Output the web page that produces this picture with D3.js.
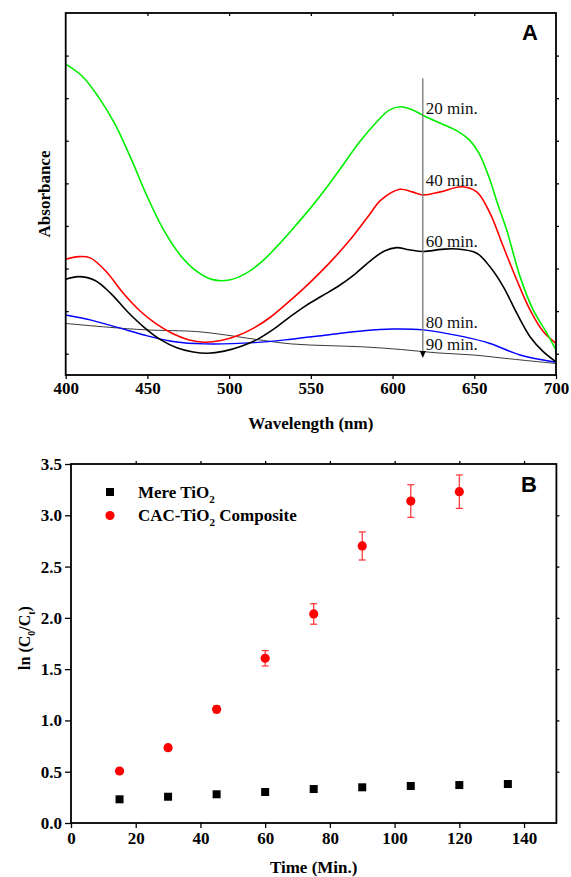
<!DOCTYPE html>
<html>
<head>
<meta charset="utf-8">
<script src="https://cdn.jsdelivr.net/npm/d3@7/dist/d3.min.js"></script>
<style>
  html, body { margin: 0; padding: 0; background: #fff; }
  svg { display: block; }
</style>
</head>
<body>
<svg id="chart" width="571" height="877"></svg>
<script>
// ---- panel A : absorbance spectra (a.u.) ----
const spectrum20 = [[400,0.680],[410,0.652],[420,0.603],[430,0.540],[440,0.458],[450,0.368],[460,0.290],[470,0.232],[480,0.194],[490,0.174],[500,0.173],[510,0.188],[520,0.216],[530,0.255],[540,0.298],[550,0.343],[560,0.392],[570,0.445],[580,0.498],[590,0.543],[598,0.572],[605,0.580],[612,0.573],[620,0.557],[630,0.540],[640,0.522],[647,0.502],[653,0.470],[659.6,0.408],[664,0.355],[669.8,0.291],[678,0.181],[686,0.103],[694.3,0.049],[700,0.009]]
const spectrum40 = [[400,0.222],[408,0.228],[415,0.225],[425,0.192],[435,0.143],[445,0.102],[455,0.071],[465,0.048],[475,0.033],[485,0.027],[495,0.031],[505,0.042],[515,0.060],[525,0.085],[535,0.117],[545,0.151],[555,0.188],[565,0.228],[575,0.272],[585,0.322],[593,0.361],[604.6,0.386],[612,0.380],[618.8,0.373],[629.2,0.380],[642.3,0.392],[651.5,0.380],[659.6,0.330],[667.8,0.251],[676,0.173],[684.1,0.103],[692.2,0.052],[700,0.024]]
const spectrum60 = [[400,0.175],[408,0.181],[418,0.172],[428,0.140],[438,0.098],[448,0.062],[458,0.033],[468,0.014],[478,0.004],[487,0.001],[497,0.006],[507,0.017],[517,0.033],[527,0.057],[537,0.086],[547,0.113],[557,0.136],[567,0.159],[577,0.187],[587,0.220],[595,0.241],[602.5,0.249],[610,0.244],[618.8,0.240],[630,0.245],[639.2,0.246],[651.5,0.236],[659.6,0.204],[667.8,0.157],[676,0.095],[684.1,0.040],[692.2,0.005],[700,-0.019]]
const spectrum80 = [[400,0.091],[415.6,0.079],[433.4,0.060],[450,0.042],[466.8,0.028],[484.6,0.023],[515.7,0.026],[538,0.034],[560,0.044],[582.5,0.054],[600,0.058],[618.8,0.056],[643.3,0.040],[659.6,0.024],[678,-0.003],[700,-0.020]]
const spectrum90 = [[400,0.071],[426.7,0.062],[449,0.056],[480,0.052],[497.8,0.044],[515.7,0.034],[538,0.023],[560,0.019],[582.5,0.016],[604.8,0.010],[627,0.002],[649.3,-0.003],[671.5,-0.012],[700,-0.023]]

const spectraNames = ["20 min.", "40 min.", "60 min.", "80 min.", "90 min."]
const spectraLabelY = [0.563, 0.394, 0.251, 0.060, 0.009]
const arrowWl = 618.5, arrowTop = 0.647, arrowBottom = -0.010

const wlTicks = [400, 450, 500, 550, 600, 650, 700]
const absTicks = [0, 0.1, 0.2, 0.3, 0.4, 0.5, 0.6, 0.7]

// ---- panel B : kinetics ----
const times = [15, 30, 45, 60, 75, 90, 105, 120, 135]
const mereTiO2 = [0.231, 0.256, 0.280, 0.302, 0.331, 0.348, 0.361, 0.370, 0.380]
const cacTimes = [15, 30, 45, 60, 75, 90, 105, 120]
const cacTiO2 = [0.507, 0.734, 1.108, 1.606, 2.038, 2.701, 3.139, 3.230]
const cacErr = [0.012, 0.022, 0.033, 0.075, 0.100, 0.137, 0.159, 0.163]

const timeTicks = [0, 20, 40, 60, 80, 100, 120, 140]
const lnTicks = [0, 0.5, 1.0, 1.5, 2.0, 2.5, 3.0, 3.5]

const serif = "'Liberation Serif', 'Times New Roman', serif"
const sans = "'Liberation Sans', Arial, sans-serif"

const svg = d3.select("#chart")

// ========== PANEL A ==========
const xA = d3.scaleLinear([400, 700], [65.7, 556])
const yA = d3.scaleLinear([-0.05, 0.8], [375, 13])

const gA = svg.append("g")

// ticks
gA.append("g")
  .attr("transform", `translate(0,${yA.range()[0]})`)
  .call(d3.axisBottom(xA).tickValues(wlTicks).tickSize(4).tickPadding(3).tickFormat(d3.format("d")))
  .call(g => g.select(".domain").remove())
  .call(g => g.selectAll("line").attr("stroke-width", 1.3))
  .call(g => g.selectAll("text").attr("font-family", serif).attr("font-weight", "bold").attr("font-size", 17).attr("fill", "#000"))

gA.append("g")
  .attr("transform", `translate(0,${yA.range()[1]})`)
  .call(d3.axisTop(xA).tickValues(wlTicks.slice(1, -1)).tickSize(-3).tickFormat(""))
  .call(g => g.select(".domain").remove())
  .call(g => g.selectAll("line").attr("stroke-width", 1.3))

gA.append("g")
  .attr("transform", `translate(${xA.range()[0]},0)`)
  .call(d3.axisLeft(yA).tickValues(absTicks).tickSize(-3).tickFormat(""))
  .call(g => g.select(".domain").remove())
  .call(g => g.selectAll("line").attr("stroke-width", 1.3))

gA.append("g")
  .attr("transform", `translate(${xA.range()[1]},0)`)
  .call(d3.axisRight(yA).tickValues(absTicks).tickSize(3).tickFormat(""))
  .call(g => g.select(".domain").remove())
  .call(g => g.selectAll("line").attr("stroke-width", 1.3))

// spectra
const lineA = d3.line().x(d => xA(d[0])).y(d => yA(d[1])).curve(d3.curveCatmullRom.alpha(0.5))
const spectra = [
  {data: spectrum20, color: "#00ee00", w: 1.6},
  {data: spectrum40, color: "#ff0000", w: 1.6},
  {data: spectrum60, color: "#000000", w: 1.6},
  {data: spectrum80, color: "#0000ff", w: 1.4},
  {data: spectrum90, color: "#222222", w: 0.9}
]
// draw the thin 90 min line first, then the others
;[4, 3, 2, 1, 0].forEach(i => {
  gA.append("path")
    .attr("d", lineA(spectra[i].data))
    .attr("fill", "none")
    .attr("stroke", spectra[i].color)
    .attr("stroke-width", spectra[i].w)
})

// arrow
gA.append("line")
  .attr("x1", xA(arrowWl)).attr("x2", xA(arrowWl))
  .attr("y1", yA(arrowTop)).attr("y2", yA(arrowBottom) - 6)
  .attr("stroke", "#777").attr("stroke-width", 1.3)
gA.append("path")
  .attr("d", `M${xA(arrowWl) - 3},${yA(arrowBottom) - 7} L${xA(arrowWl) + 3},${yA(arrowBottom) - 7} L${xA(arrowWl)},${yA(arrowBottom)} Z`)
  .attr("fill", "#000")

gA.selectAll(".lbl")
  .data(spectraNames)
  .join("text")
  .attr("x", xA(arrowWl) + 3)
  .attr("y", (d, i) => yA(spectraLabelY[i]))
  .attr("font-family", serif).attr("font-size", 17).attr("fill", "#111")
  .text(d => d)

// frame
gA.append("rect")
  .attr("x", xA.range()[0]).attr("y", yA.range()[1])
  .attr("width", xA.range()[1] - xA.range()[0]).attr("height", yA.range()[0] - yA.range()[1])
  .attr("fill", "none").attr("stroke", "#000").attr("stroke-width", 1.8)

gA.append("text")
  .attr("x", 530).attr("y", 40)
  .attr("text-anchor", "middle")
  .attr("font-family", sans).attr("font-weight", "bold").attr("font-size", 22)
  .text("A")

gA.append("text")
  .attr("x", (xA.range()[0] + xA.range()[1]) / 2).attr("y", 429)
  .attr("text-anchor", "middle")
  .attr("font-family", serif).attr("font-weight", "bold").attr("font-size", 17)
  .text("Wavelength (nm)")

gA.append("text")
  .attr("transform", "translate(50,194) rotate(-90)")
  .attr("text-anchor", "middle")
  .attr("font-family", serif).attr("font-weight", "bold").attr("font-size", 17)
  .text("Absorbance")

// ========== PANEL B ==========
const xB = d3.scaleLinear([0, 150], [71, 556.4])
const yB = d3.scaleLinear([0, 3.5], [823, 464])

const gB = svg.append("g")

gB.append("g")
  .attr("transform", `translate(0,${yB.range()[0]})`)
  .call(d3.axisBottom(xB).tickValues(timeTicks).tickSize(5).tickPadding(4).tickFormat(d3.format("d")))
  .call(g => g.select(".domain").remove())
  .call(g => g.selectAll("line").attr("stroke-width", 1.3))
  .call(g => g.selectAll("text").attr("font-family", serif).attr("font-weight", "bold").attr("font-size", 17).attr("fill", "#000"))

gB.append("g")
  .attr("transform", `translate(${xB.range()[0]},0)`)
  .call(d3.axisLeft(yB).tickValues(lnTicks).tickSize(6).tickPadding(3).tickFormat(d3.format(".1f")))
  .call(g => g.select(".domain").remove())
  .call(g => g.selectAll("line").attr("stroke-width", 1.3))
  .call(g => g.selectAll("text").attr("font-family", serif).attr("font-weight", "bold").attr("font-size", 17).attr("fill", "#000"))

gB.append("g")
  .attr("transform", `translate(0,${yB.range()[1]})`)
  .call(d3.axisTop(xB).tickValues(timeTicks.slice(1)).tickSize(3).tickFormat(""))
  .call(g => g.select(".domain").remove())
  .call(g => g.selectAll("line").attr("stroke-width", 1.3))

gB.append("g")
  .attr("transform", `translate(${xB.range()[1]},0)`)
  .call(d3.axisRight(yB).tickValues(lnTicks.slice(1, -1)).tickSize(3).tickFormat(""))
  .call(g => g.select(".domain").remove())
  .call(g => g.selectAll("line").attr("stroke-width", 1.3))

gB.append("rect")
  .attr("x", xB.range()[0]).attr("y", yB.range()[1])
  .attr("width", xB.range()[1] - xB.range()[0]).attr("height", yB.range()[0] - yB.range()[1])
  .attr("fill", "none").attr("stroke", "#000").attr("stroke-width", 1.8)

// error bars
const cac = cacTimes.map((t, i) => ({t, v: cacTiO2[i], e: cacErr[i]}))
const eb = gB.append("g").attr("stroke", "#ff3030").attr("stroke-width", 1.2)
cac.forEach(d => {
  const x = xB(d.t)
  eb.append("line").attr("x1", x).attr("x2", x).attr("y1", yB(d.v - d.e)).attr("y2", yB(d.v + d.e))
  eb.append("line").attr("x1", x - 3.5).attr("x2", x + 3.5).attr("y1", yB(d.v - d.e)).attr("y2", yB(d.v - d.e))
  eb.append("line").attr("x1", x - 3.5).attr("x2", x + 3.5).attr("y1", yB(d.v + d.e)).attr("y2", yB(d.v + d.e))
})

gB.selectAll(".cac")
  .data(cac)
  .join("circle")
  .attr("cx", d => xB(d.t)).attr("cy", d => yB(d.v)).attr("r", 4.6)
  .attr("fill", "#ff0000")

gB.selectAll(".mere")
  .data(times.map((t, i) => ({t, v: mereTiO2[i]})))
  .join("rect")
  .attr("x", d => xB(d.t) - 4).attr("y", d => yB(d.v) - 4)
  .attr("width", 8).attr("height", 8)
  .attr("fill", "#000")

// legend
gB.append("rect").attr("x", 106).attr("y", 488).attr("width", 8).attr("height", 8).attr("fill", "#000")
gB.append("circle").attr("cx", 110).attr("cy", 515.5).attr("r", 4.6).attr("fill", "#ff0000")

const leg1 = gB.append("text").attr("x", 138).attr("y", 497.5)
  .attr("font-family", serif).attr("font-weight", "bold").attr("font-size", 17)
leg1.append("tspan").text("Mere TiO")
leg1.append("tspan").attr("dy", 5).attr("font-size", 11).text("2")

const leg2 = gB.append("text").attr("x", 138).attr("y", 521)
  .attr("font-family", serif).attr("font-weight", "bold").attr("font-size", 17)
leg2.append("tspan").text("CAC-TiO")
leg2.append("tspan").attr("dy", 5).attr("font-size", 11).text("2")
leg2.append("tspan").attr("dy", -5).text(" Composite")

gB.append("text")
  .attr("x", 529).attr("y", 492)
  .attr("text-anchor", "middle")
  .attr("font-family", sans).attr("font-weight", "bold").attr("font-size", 22)
  .text("B")

gB.append("text")
  .attr("x", (xB.range()[0] + xB.range()[1]) / 2).attr("y", 873)
  .attr("text-anchor", "middle")
  .attr("font-family", serif).attr("font-weight", "bold").attr("font-size", 17)
  .text("Time (Min.)")

const yLab = gB.append("text")
  .attr("transform", "translate(30,638) rotate(-90)")
  .attr("text-anchor", "middle")
  .attr("font-family", serif).attr("font-weight", "bold").attr("font-size", 16)
yLab.append("tspan").text("ln (C")
yLab.append("tspan").attr("dy", 5).attr("font-size", 10).text("0")
yLab.append("tspan").attr("dy", -5).text("/C")
yLab.append("tspan").attr("dy", 5).attr("font-size", 10).text("t")
yLab.append("tspan").attr("dy", -5).text(")")
</script>
</body>
</html>
